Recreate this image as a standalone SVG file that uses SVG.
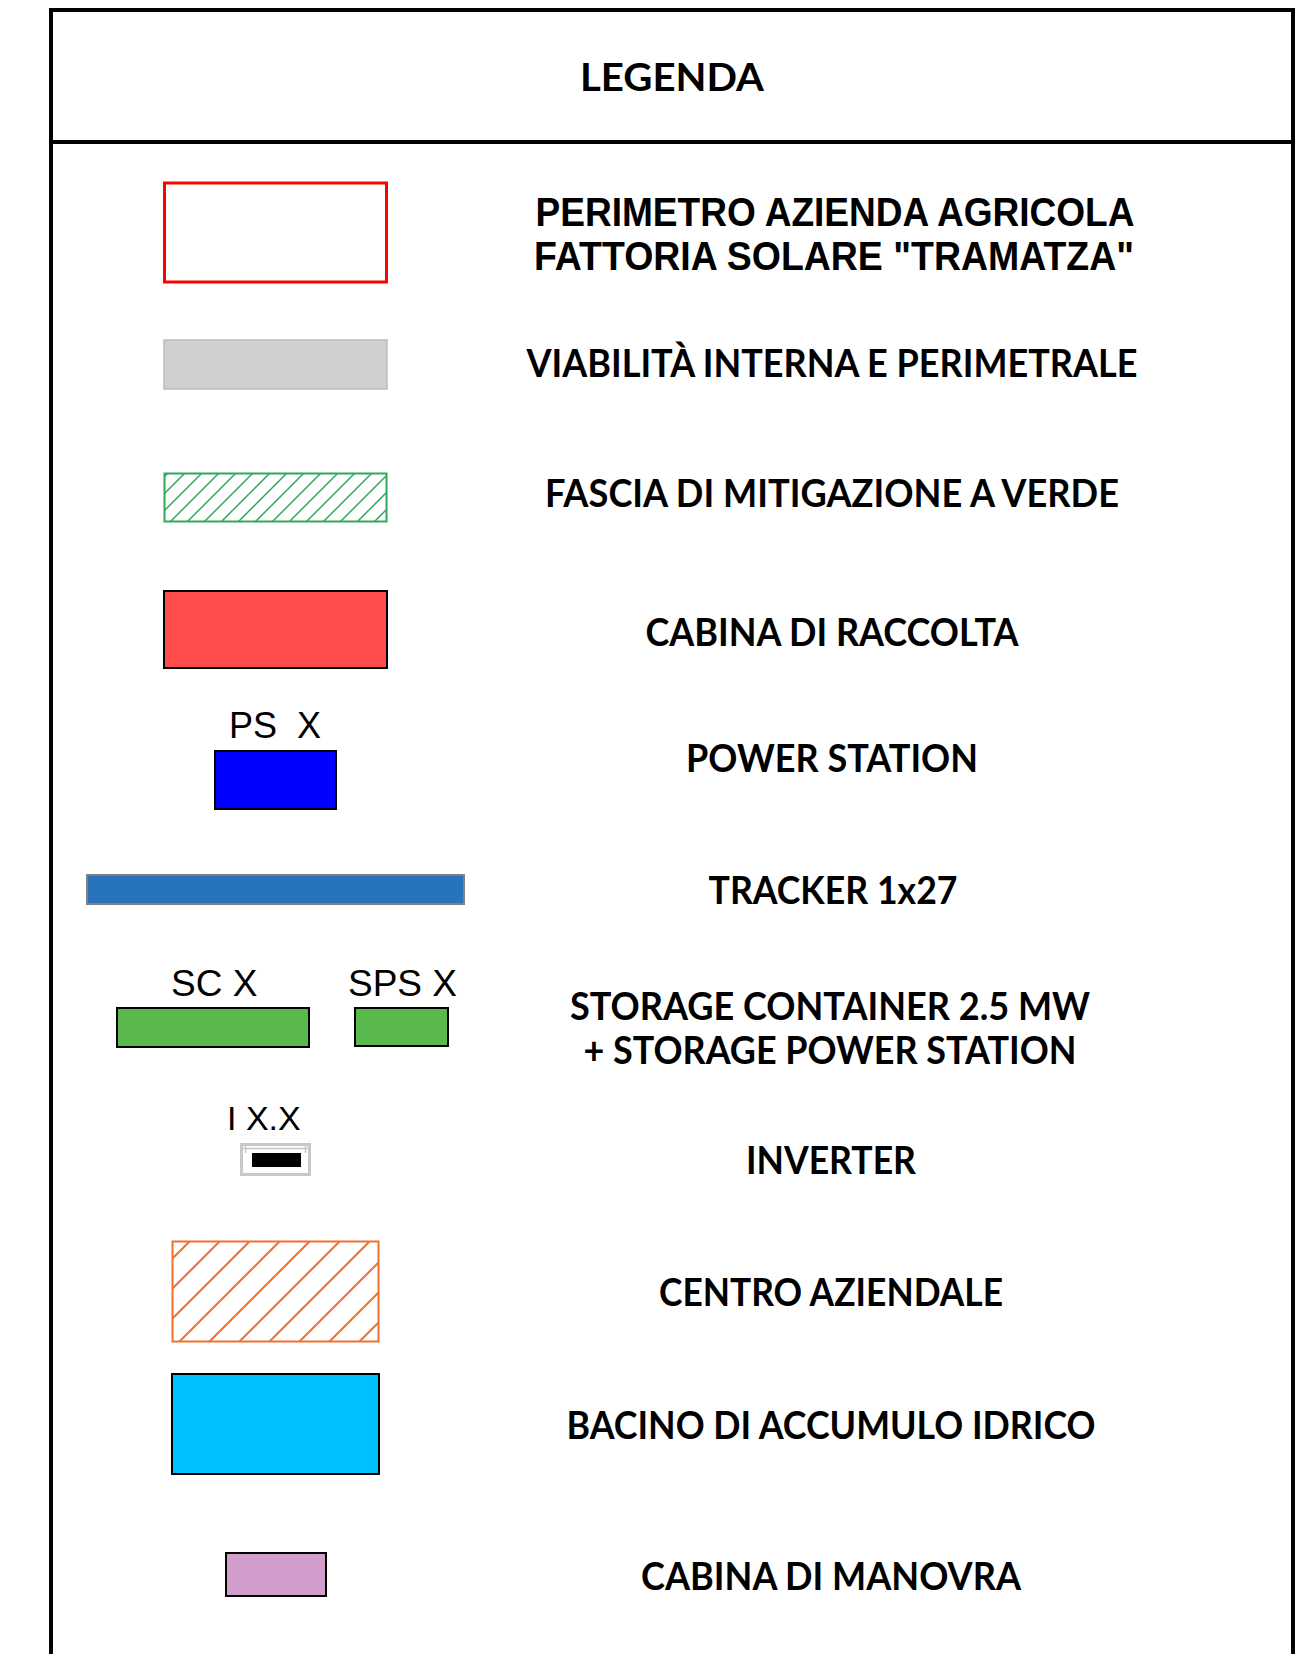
<svg xmlns="http://www.w3.org/2000/svg" width="1303" height="1654" viewBox="0 0 1303 1654">
<style>
.h{font-family:Lato,"Open Sans","DejaVu Sans",sans-serif;font-weight:bold;fill:#000;text-anchor:middle}
.a{font-family:"Liberation Sans",Arial,sans-serif;font-weight:bold;fill:#000;text-anchor:middle}
.s{font-family:"Liberation Sans",Arial,sans-serif;fill:#000}
.k{stroke:#000;stroke-width:2}
</style>
<defs>
<pattern id="hg" patternUnits="userSpaceOnUse" x="12" y="0" width="17" height="17">
<path d="M0,17 L17,0 M-3,3 L3,-3 M14,20 L20,14" stroke="#2EA85A" stroke-width="1.5"/>
</pattern>
<pattern id="ho" patternUnits="userSpaceOnUse" x="21" y="0" width="30" height="30">
<path d="M0,30 L30,0 M-3,3 L3,-3 M27,33 L33,27" stroke="#F07030" stroke-width="2"/>
</pattern>
</defs>
<rect width="1303" height="1654" fill="#fff"/>
<g id="frame" fill="none" stroke="#000" stroke-width="4">
<path d="M51,1654 L51,10 L1293,10 L1293,1654"/>
<line x1="51" y1="142" x2="1293" y2="142"/>
</g>
<g id="title"><text class="h" x="672" y="91" font-size="39" textLength="184" lengthAdjust="spacingAndGlyphs">LEGENDA</text></g>
<g id="perimetro">
<rect x="164.5" y="183" width="222" height="99" fill="none" stroke="#FF0000" stroke-width="3"/>
<text class="a" x="835" y="226" font-size="40" textLength="599" lengthAdjust="spacingAndGlyphs">PERIMETRO AZIENDA AGRICOLA</text>
<text class="a" x="834" y="270" font-size="40" textLength="600" lengthAdjust="spacingAndGlyphs">FATTORIA SOLARE "TRAMATZA"</text>
</g>
<g id="viabilita">
<rect x="164" y="340" width="223" height="49" fill="#D0D0D0" stroke="#BDBDBD" stroke-width="1.5"/>
<text class="h" x="832" y="377" font-size="38" textLength="611" lengthAdjust="spacingAndGlyphs">VIABILITÀ INTERNA E PERIMETRALE</text>
</g>
<g id="fascia">
<rect x="164.5" y="473.5" width="222" height="48" fill="url(#hg)" stroke="#2EA85A" stroke-width="2"/>
<text class="h" x="832" y="507" font-size="38" textLength="574" lengthAdjust="spacingAndGlyphs">FASCIA DI MITIGAZIONE A VERDE</text>
</g>
<g id="cabina-raccolta">
<rect x="164" y="591" width="223" height="77" fill="#FF4B4B" class="k"/>
<text class="h" x="832" y="646" font-size="38" textLength="373" lengthAdjust="spacingAndGlyphs">CABINA DI RACCOLTA</text>
</g>
<g id="power-station">
<text class="s" x="229" y="738" font-size="36" xml:space="preserve">PS  X</text>
<rect x="215" y="751" width="121" height="58" fill="#0000FF" class="k"/>
<text class="h" x="832" y="772" font-size="38" textLength="292" lengthAdjust="spacingAndGlyphs">POWER STATION</text>
</g>
<g id="tracker">
<rect x="87" y="875" width="377" height="29" fill="#2874BA" stroke="#808080" stroke-width="2"/>
<text class="h" x="833" y="904" font-size="38" textLength="249" lengthAdjust="spacingAndGlyphs">TRACKER 1x27</text>
</g>
<g id="storage">
<text class="s" x="171" y="996" font-size="37">SC X</text>
<text class="s" x="348" y="996" font-size="37">SPS X</text>
<rect x="117" y="1008" width="192" height="39" fill="#59B94C" class="k"/>
<rect x="355" y="1008" width="93" height="38" fill="#59B94C" class="k"/>
<text class="h" x="830" y="1020" font-size="38" textLength="520" lengthAdjust="spacingAndGlyphs">STORAGE CONTAINER 2.5 MW</text>
<text class="h" x="830" y="1064" font-size="38" textLength="493" lengthAdjust="spacingAndGlyphs">+ STORAGE POWER STATION</text>
</g>
<g id="inverter">
<text class="s" x="227" y="1130" font-size="34">I X.X</text>
<rect x="241.5" y="1144.5" width="68" height="30" fill="#fff" stroke="#C8C8C8" stroke-width="3"/>
<path d="M243,1148.5 L308,1148.5 M245.5,1144 L245.5,1153 M305.5,1144 L305.5,1153" stroke="#C8C8C8" stroke-width="1.5" fill="none"/>
<rect x="252" y="1153" width="49" height="14" fill="#000"/>
<text class="h" x="831" y="1174" font-size="38" textLength="170" lengthAdjust="spacingAndGlyphs">INVERTER</text>
</g>
<g id="centro">
<rect x="172.5" y="1241.5" width="206" height="100" fill="url(#ho)" stroke="#F07030" stroke-width="2"/>
<text class="h" x="831" y="1306" font-size="38" textLength="344" lengthAdjust="spacingAndGlyphs">CENTRO AZIENDALE</text>
</g>
<g id="bacino">
<rect x="172" y="1374" width="207" height="100" fill="#00BFFF" class="k"/>
<text class="h" x="831" y="1439" font-size="38" textLength="529" lengthAdjust="spacingAndGlyphs">BACINO DI ACCUMULO IDRICO</text>
</g>
<g id="cabina-manovra">
<rect x="226" y="1553" width="100" height="43" fill="#D29DCA" class="k"/>
<text class="h" x="831" y="1590" font-size="38" textLength="380" lengthAdjust="spacingAndGlyphs">CABINA DI MANOVRA</text>
</g>
<g id="connectors"/>
</svg>
